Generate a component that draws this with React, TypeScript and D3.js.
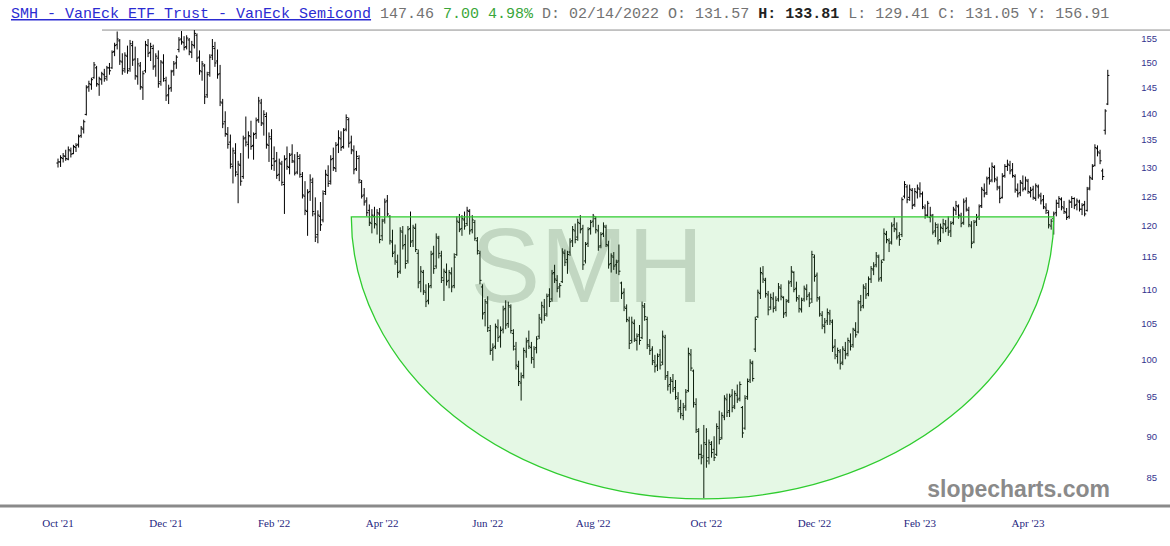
import React from "react";
import * as d3 from "d3";

type Bar = [number, number, number, number]; // open, high, low, close

const oct21: Bar[] = [
  [130.8,131.6,130.0,131.0],[131.0,132.2,130.1,131.8],[131.6,132.6,130.9,132.1],[132.0,133.2,131.2,131.6],
  [131.5,133.8,131.3,133.2],[133.0,133.6,131.8,132.4],[132.5,134.1,132.4,133.8],[133.6,134.4,132.8,134.0],
  [134.2,136.0,133.6,135.6],[135.8,137.6,135.4,137.2],[137.0,138.8,136.2,138.4],[139.8,145.5,139.6,145.0],
  [145.2,146.4,144.2,145.8],[145.6,147.0,144.6,146.6],[147.0,150.2,146.8,149.6],[149.0,149.4,145.2,145.8],
  [145.6,147.2,143.4,146.8],[146.6,148.2,145.6,147.8],[147.6,148.8,146.2,146.8],[147.2,149.4,146.4,149.0],
  [149.0,150.0,147.6,148.4],
];
const nov21: Bar[] = [
  [149.0,152.6,148.8,152.2],[152.4,154.2,151.4,153.6],[153.8,156.6,152.8,155.0],[154.6,155.0,149.6,150.4],
  [150.2,152.0,147.6,148.4],[148.8,152.2,148.0,151.6],[151.4,153.6,147.8,148.4],[148.8,154.8,148.2,154.0],
  [153.6,154.6,149.4,150.6],[150.8,153.4,146.6,147.4],[147.2,151.0,145.6,149.8],[149.4,150.2,144.6,145.2],
  [145.0,148.4,142.6,147.8],[148.4,154.6,148.0,153.8],[153.6,155.0,151.2,152.0],[152.2,154.2,150.4,153.4],
  [153.0,153.8,148.6,149.2],[149.4,152.0,147.2,151.4],[151.0,152.6,145.0,145.8],[146.2,150.6,145.4,150.2],
  [150.0,151.8,146.2,146.8],
];
const dec21: Bar[] = [
  [146.4,147.2,142.4,143.4],[143.6,145.6,141.8,144.8],[145.0,148.6,144.2,148.2],[148.4,150.4,147.4,149.8],
  [150.0,151.6,148.8,151.2],[152.8,155.4,152.2,154.8],[155.0,156.7,153.8,154.4],[154.2,155.6,152.6,153.2],
  [153.4,155.8,152.8,155.2],[154.8,155.2,151.6,152.4],[152.2,154.6,151.0,153.8],[153.6,156.91,153.0,156.2],
  [155.8,156.2,150.2,151.0],[151.2,152.6,147.6,148.4],[148.2,150.4,146.4,149.8],[149.4,149.8,141.8,143.2],
  [143.6,148.2,143.0,147.6],[148.0,151.8,147.2,151.2],[151.6,155.0,150.6,153.4],[153.0,154.4,149.2,150.0],
  [150.4,152.8,146.8,147.6],[147.8,149.6,141.4,142.2],
];
const jan22: Bar[] = [
  [142.0,142.8,137.2,138.0],[138.4,140.4,135.6,136.2],[136.0,137.4,133.4,134.2],[134.6,136.0,129.8,130.6],
  [130.2,133.6,127.2,133.0],[132.6,134.4,128.4,129.2],[128.8,131.2,123.8,130.6],[130.4,132.6,126.8,127.6],
  [128.4,135.8,128.0,135.2],[135.4,139.4,133.8,134.6],[134.2,136.6,131.6,135.8],[135.6,138.6,133.2,133.8],
  [134.0,136.4,131.4,136.0],[136.2,139.2,135.2,138.6],[138.8,143.2,138.2,142.4],[142.0,142.8,137.6,138.2],
  [138.0,140.6,135.8,139.8],[139.4,140.2,133.4,134.2],[134.0,136.4,131.0,135.6],[135.2,137.0,129.6,130.4],
];
const feb22: Bar[] = [
  [131.57,133.81,129.41,131.05],[131.2,132.8,128.0,128.6],[128.8,131.6,127.6,130.8],[130.6,131.2,126.8,127.4],
  [127.0,132.2,122.0,131.4],[131.6,133.8,129.6,130.2],[130.0,132.6,128.8,132.2],[132.4,134.2,130.8,131.2],
  [131.0,132.4,128.6,129.0],[129.2,132.8,128.8,132.0],[131.6,132.4,128.2,128.8],[128.4,129.2,124.6,125.2],
  [125.0,127.6,121.8,122.6],[122.4,126.2,118.4,125.6],[125.8,128.8,124.2,127.8],[127.4,128.2,121.6,122.4],
  [122.0,124.8,117.4,118.2],[118.6,122.6,117.2,121.8],[121.6,124.0,119.2,120.2],
];
const mar22: Bar[] = [
  [121.0,126.0,120.6,125.4],[125.8,129.6,125.2,128.8],[128.6,130.4,126.6,127.2],[127.6,132.2,127.0,131.4],
  [131.6,133.6,129.4,130.0],[129.8,134.6,129.2,134.0],[134.2,136.8,132.6,135.4],[135.2,136.6,133.0,133.6],
  [133.8,137.2,133.4,136.8],[137.0,139.8,136.6,139.2],[138.8,139.2,133.6,134.4],[134.6,135.8,132.4,133.2],
  [133.0,134.0,128.8,129.6],[129.8,133.0,129.4,132.0],[131.6,132.2,127.2,127.8],[127.4,127.8,124.6,125.0],
  [125.2,126.4,123.4,124.0],[124.2,124.8,121.6,122.2],[122.6,123.6,120.0,120.6],[120.4,122.8,118.8,121.8],
  [121.6,123.2,119.6,120.4],[120.2,122.8,118.6,122.2],[122.0,123.0,117.2,117.8],
];
const apr22: Bar[] = [
  [118.4,121.2,117.6,120.8],[121.0,124.6,120.4,124.0],[124.2,125.2,121.6,122.0],[121.6,121.8,117.0,117.6],
  [117.4,119.4,115.0,115.6],[115.8,117.0,113.8,114.4],[114.2,115.4,111.8,112.6],[112.8,119.8,112.4,119.2],
  [119.0,120.0,116.2,116.8],[117.0,118.6,113.2,114.0],[114.4,120.0,114.0,119.4],[119.6,122.4,116.6,117.4],
  [117.6,120.2,116.6,119.8],[119.6,120.4,115.8,116.2],[115.6,116.2,110.2,111.0],[111.2,113.6,109.6,112.8],
  [112.6,113.0,109.2,109.8],[109.6,110.8,107.4,108.2],[108.4,111.0,107.8,110.4],[110.6,116.0,110.2,115.4],
];
const may22: Bar[] = [
  [115.6,116.8,112.4,113.2],[113.6,118.8,113.2,118.2],[118.0,118.4,114.8,115.6],[115.2,116.0,111.0,111.8],
  [111.4,113.2,108.3,112.8],[112.6,114.0,110.6,111.2],[111.4,113.0,110.2,112.6],[112.4,113.4,109.6,110.4],
  [110.6,115.6,110.2,115.0],[115.4,121.6,115.2,120.8],[120.6,122.0,119.0,119.4],[119.6,121.8,118.4,121.2],
  [121.0,122.4,119.4,120.0],[120.4,123.2,120.0,122.6],[122.4,122.8,118.6,119.2],[119.4,121.8,118.8,121.0],
  [120.6,121.0,117.6,118.0],[117.6,118.2,115.4,116.0],[115.6,116.0,110.8,111.4],[110.4,110.8,105.6,106.4],
  [106.6,108.6,104.6,108.2],
];
const jun22: Bar[] = [
  [108.0,109.0,103.8,104.4],[104.0,104.8,100.6,101.2],[101.4,102.2,99.8,101.6],[101.8,105.0,101.4,104.6],
  [104.4,105.6,102.4,103.0],[103.2,104.6,101.6,104.0],[104.2,107.6,103.6,107.0],[107.2,108.4,104.2,104.8],
  [105.0,108.2,104.4,107.6],[107.4,107.8,103.6,104.0],[103.6,104.2,101.2,101.8],[101.4,102.4,98.6,99.2],
  [99.0,99.8,96.4,97.0],[96.8,98.2,94.5,97.6],[97.8,101.6,97.4,101.2],[101.0,103.0,100.2,102.4],
  [102.6,104.0,101.4,101.8],[101.6,102.4,99.4,100.2],[100.0,101.8,98.8,101.4],[101.6,103.2,100.8,102.8],
  [103.2,106.4,102.8,105.8],
];
const jul22: Bar[] = [
  [105.6,108.2,105.0,107.6],[107.4,108.6,105.4,106.2],[106.4,109.4,106.0,109.0],[109.2,110.2,107.4,108.2],
  [108.6,113.0,108.2,112.4],[112.6,113.8,111.0,111.6],[111.4,112.2,109.6,110.2],[110.4,111.0,108.8,110.6],
  [111.2,116.4,111.0,115.8],[115.6,116.2,113.6,114.2],[114.6,116.0,112.4,115.4],[115.8,118.0,115.2,117.4],
  [117.6,120.0,116.6,119.4],[119.2,120.4,117.2,117.8],[118.2,121.2,117.6,120.6],[120.4,121.8,118.8,119.4],
  [119.6,120.2,113.0,113.8],[114.4,117.4,114.0,117.0],[117.2,119.8,116.6,119.4],[119.6,121.0,118.6,120.6],
];
const aug22: Bar[] = [
  [120.8,122.0,119.8,121.6],[121.2,121.6,118.8,119.4],[119.2,120.2,116.0,116.6],[116.8,119.0,116.4,118.6],
  [118.8,120.6,118.2,120.0],[119.8,120.2,116.6,117.0],[116.8,117.6,113.2,113.8],[114.0,115.6,112.6,115.2],
  [115.0,115.8,113.0,113.6],[113.8,114.6,112.4,114.2],[114.4,117.0,112.2,112.8],[111.0,111.2,108.6,109.4],
  [109.6,110.2,106.8,107.4],[107.2,107.8,105.2,105.6],[105.4,106.0,101.4,102.2],[102.6,106.0,102.2,105.2],
  [105.0,105.6,102.4,102.8],[102.6,103.6,101.2,103.2],[103.4,104.8,102.0,102.6],[103.0,108.2,102.8,107.6],
  [107.4,108.0,105.4,106.0],[105.6,106.0,101.4,102.0],[101.8,102.8,100.6,101.2],
];
const sep22: Bar[] = [
  [101.4,101.8,99.2,99.8],[99.6,100.6,98.2,99.0],[99.2,100.8,98.4,100.4],[100.6,101.4,98.6,99.2],
  [99.6,104.0,99.2,103.2],[103.0,103.4,97.2,97.6],[97.8,98.4,95.8,96.4],[96.6,97.6,95.4,97.2],
  [97.0,98.0,95.6,96.0],[96.2,97.2,94.6,95.0],[94.8,95.6,93.0,93.4],[93.6,94.6,92.2,92.8],
  [92.6,94.2,92.0,93.6],[93.8,96.0,93.2,95.6],[95.8,101.6,95.6,100.8],[100.6,101.4,98.4,98.8],
  [98.4,98.6,93.6,94.2],[94.0,94.8,90.4,90.8],[90.6,91.0,87.2,87.8],[87.8,89.0,86.6,87.4],
  [87.6,91.4,82.7,89.2],
];
const oct22: Bar[] = [
  [89.0,91.0,86.2,87.0],[87.4,89.6,86.6,89.2],[89.0,89.4,87.4,88.0],[88.4,90.0,87.0,87.4],
  [87.8,91.6,87.6,91.2],[91.0,93.2,89.0,89.6],[89.8,93.0,89.6,92.6],[92.4,95.2,92.0,94.8],
  [94.6,95.4,92.4,93.0],[93.2,95.4,92.4,95.0],[95.2,96.0,93.0,93.6],[93.8,95.8,93.4,95.4],
  [95.2,96.6,94.2,94.6],[94.8,97.0,94.4,96.6],[93.6,93.8,89.8,90.4],[91.0,95.2,90.8,94.8],
  [95.0,97.4,94.6,97.0],[97.2,100.0,96.8,99.6],[99.4,99.8,97.0,97.4],[101.4,106.0,101.0,105.6],
  [106.0,110.0,105.8,109.6],
];
const nov22: Bar[] = [
  [109.4,113.4,108.6,112.6],[112.4,113.6,111.0,111.6],[111.4,111.8,108.8,109.4],[109.2,109.8,106.2,107.0],
  [107.4,109.4,107.0,108.8],[108.6,109.6,106.6,107.2],[107.4,109.0,106.8,108.4],[108.6,111.0,108.2,110.4],
  [110.2,110.8,108.4,109.0],[108.8,109.0,105.8,106.4],[106.6,108.6,106.0,108.2],[108.4,111.4,108.0,111.0],
  [111.2,113.6,110.4,112.8],[112.6,112.8,109.6,110.0],[110.2,111.2,108.2,108.8],[108.6,109.2,106.6,107.2],
  [107.0,108.8,106.6,108.4],[108.6,110.6,108.2,110.2],[110.0,110.8,108.4,109.0],[109.2,109.6,107.4,108.0],
  [108.6,116.0,108.0,115.4],
];
const dec22: Bar[] = [
  [115.0,115.4,111.2,112.0],[112.2,112.6,108.2,108.8],[108.6,109.0,106.0,106.4],[106.2,106.8,104.2,104.8],
  [104.6,105.8,103.6,105.2],[105.4,107.2,104.8,106.6],[106.4,107.0,104.8,105.4],[105.2,105.6,101.0,101.6],
  [101.8,102.8,100.0,100.6],[100.4,101.6,99.4,101.2],[101.0,101.4,98.6,99.4],[99.6,101.8,99.2,101.4],
  [101.2,102.4,100.0,100.6],[100.8,103.0,100.4,102.6],[102.4,103.6,101.2,101.8],[102.0,104.4,101.6,104.2],
  [104.0,105.2,103.0,103.4],[103.8,108.4,103.6,108.0],[108.2,109.2,106.8,107.4],[107.6,110.8,107.2,110.4],
  [110.2,111.0,108.6,109.2],
];
const jan23: Bar[] = [
  [109.4,112.0,109.0,111.6],[111.6,113.6,111.0,113.2],[113.0,114.2,112.2,113.6],[113.8,115.8,113.4,115.2],
  [115.0,115.4,111.2,111.6],[111.8,114.6,111.2,114.2],[114.6,119.6,114.4,118.8],[118.6,119.2,117.2,117.8],
  [117.6,118.0,115.8,117.2],[117.4,120.6,117.0,120.0],[120.2,121.4,119.0,119.6],[119.4,120.6,117.8,118.2],
  [118.4,119.0,116.8,117.8],[118.6,124.8,118.2,124.4],[125.0,127.6,124.6,127.0],[126.6,127.0,123.8,124.4],
  [124.8,127.0,124.2,126.2],[126.0,126.4,122.8,123.4],[123.6,126.4,123.2,125.8],[125.6,127.0,124.6,126.4],
];
const feb23: Bar[] = [
  [126.2,127.4,124.8,125.4],[125.4,125.8,122.8,123.2],[123.0,123.6,121.2,121.8],[121.8,124.2,121.4,123.8],
  [121.4,123.2,120.6,121.8],[121.6,122.0,118.6,119.0],[119.2,120.6,118.2,120.2],[119.8,120.4,117.0,117.6],
  [117.8,120.4,117.4,119.8],[119.6,121.2,118.8,120.4],[120.2,121.0,119.0,119.6],[119.8,121.6,118.4,119.0],
  [119.2,120.8,118.2,120.4],[120.6,123.2,120.2,122.8],[122.6,124.2,121.8,123.4],[123.2,123.6,121.2,121.8],
  [121.6,122.2,119.8,120.4],[120.6,124.6,120.2,124.0],[124.2,124.8,122.4,122.8],
];
const mar23: Bar[] = [
  [122.6,123.2,119.8,120.2],[120.0,120.8,116.4,117.2],[117.4,121.0,117.2,120.6],[120.8,122.0,120.0,121.4],
  [121.6,123.6,121.0,123.2],[123.4,126.6,123.0,126.2],[126.0,127.2,124.8,125.4],[125.6,128.4,125.2,128.0],
  [128.2,130.0,127.0,127.6],[127.8,130.9,127.4,130.2],[130.0,130.4,127.4,128.0],[127.8,128.4,126.0,126.6],
  [126.4,126.8,123.8,124.6],[124.8,129.0,124.6,128.4],[128.6,130.6,128.2,130.2],[130.2,131.4,129.4,130.6],
  [130.4,131.2,128.8,129.4],[129.6,130.8,128.2,128.6],[128.4,128.8,125.6,126.2],[126.0,127.2,124.8,125.4],
  [125.6,127.8,125.0,127.4],[127.2,128.6,125.8,126.2],[126.4,128.4,126.0,127.8],
];
const apr23: Bar[] = [
  [127.6,128.0,125.4,125.8],[125.6,126.6,124.8,126.0],[126.2,126.8,124.4,124.8],[124.6,127.2,124.2,126.8],
  [126.6,127.0,124.6,125.2],[125.0,125.6,123.6,124.2],[124.4,125.2,122.8,123.2],[123.0,123.8,122.0,122.6],
  [122.2,122.6,119.6,120.2],[120.0,121.2,119.4,120.8],[121.2,122.4,118.6,122.0],[122.2,124.4,121.6,123.8],
  [123.8,125.0,123.0,124.6],[124.4,124.8,122.6,123.2],[123.0,124.2,122.0,122.4],[122.2,123.0,121.0,121.4],
  [121.6,124.4,121.2,124.0],[124.0,125.0,123.0,124.6],[124.6,124.8,122.8,123.4],
];
const may23: Bar[] = [
  [123.6,124.6,122.6,124.2],[124.0,124.4,122.4,122.8],[122.8,123.8,121.8,123.4],[123.6,124.2,121.6,122.0],
  [122.6,126.6,122.4,126.2],[126.4,128.6,126.0,128.2],[128.0,130.6,127.8,130.2],[130.4,134.2,130.2,133.6],
  [133.4,134.0,132.0,132.8],[132.6,133.2,130.6,131.2],[129.4,129.8,127.8,128.4],[136.8,140.8,136.0,140.46],
  [141.8,148.6,141.6,147.46],
];

const months: { label: string; bars: Bar[] }[] = [
  { label: "Oct '21", bars: oct21 }, { label: "Nov '21", bars: nov21 }, { label: "Dec '21", bars: dec21 },
  { label: "Jan '22", bars: jan22 }, { label: "Feb '22", bars: feb22 }, { label: "Mar '22", bars: mar22 },
  { label: "Apr '22", bars: apr22 }, { label: "May '22", bars: may22 }, { label: "Jun '22", bars: jun22 },
  { label: "Jul '22", bars: jul22 }, { label: "Aug '22", bars: aug22 }, { label: "Sep '22", bars: sep22 },
  { label: "Oct '22", bars: oct22 }, { label: "Nov '22", bars: nov22 }, { label: "Dec '22", bars: dec22 },
  { label: "Jan '23", bars: jan23 }, { label: "Feb '23", bars: feb23 }, { label: "Mar '23", bars: mar23 },
  { label: "Apr '23", bars: apr23 }, { label: "May '23", bars: may23 },
];

const yTicks = [85, 90, 95, 100, 105, 110, 115, 120, 125, 130, 135, 140, 145, 150, 155];
const yearHigh = 156.91;

// cup (half-ellipse) annotation: bar index span, rim price, bottom price
const cupStart = 114;
const cupEnd = 387;
const cupRim = 121.5;
const cupBottom = 82.6;

const W = 1170;
const H = 546;

export default function App() {
  const bars: Bar[] = months.flatMap((m) => m.bars);
  const starts: number[] = [];
  let acc = 0;
  months.forEach((m) => { starts.push(acc); acc += m.bars.length; });

  const x = d3.scaleLinear().domain([0, bars.length - 1]).range([58, 58 + (bars.length - 1) * 2.573]);
  const y = d3.scaleLog().domain([85, 155]).range([478, 39]);

  const cx0 = x(cupStart);
  const cx1 = x(cupEnd);
  const top = y(cupRim);
  const rx = (cx1 - cx0) / 2;
  const ry = y(cupBottom) - top;
  const cupPath = `M${cx0},${top} L${cx1},${top} A${rx},${ry} 0 0 1 ${cx0},${top} Z`;

  const mono = "'Liberation Mono', 'Courier New', monospace";
  const gray = "#727272";

  return (
    <svg width={W} height={H} style={{ position: "absolute", left: 0, top: 0, background: "#fff" }}>
      <text x={11} y={18} fontFamily={mono} fontSize={15} style={{ whiteSpace: "pre" }}>
        <tspan fill="#2b2bd2" textDecoration="underline">SMH - VanEck ETF Trust - VanEck Semicond</tspan>
        <tspan fill={gray}> 147.46 </tspan>
        <tspan fill="#3aa63a">7.00 4.98%</tspan>
        <tspan fill={gray}> D: 02/14/2022 O: 131.57 </tspan>
        <tspan fill="#222" fontWeight="bold">H: 133.81</tspan>
        <tspan fill={gray}> L: 129.41 C: 131.05 Y: 156.91</tspan>
      </text>

      <line x1={102} x2={W} y1={y(yearHigh)} y2={y(yearHigh)} stroke="#8c8c8c" strokeWidth={1} />

      <text x={587} y={302} textAnchor="middle" fontFamily="'Liberation Sans', Arial, sans-serif"
        fontSize={105} fill="#d6d9d6">SMH</text>

      <g stroke="#000" strokeWidth={1}>
        {bars.map((b, i) => {
          const xi = x(i);
          return (
            <g key={i}>
              <line x1={xi} x2={xi} y1={y(b[1])} y2={y(b[2])} />
              <line x1={xi - 1.6} x2={xi} y1={y(b[0])} y2={y(b[0])} />
              <line x1={xi} x2={xi + 1.6} y1={y(b[3])} y2={y(b[3])} />
            </g>
          );
        })}
      </g>

      <path d={cupPath} fill="#4fd14f" fillOpacity={0.15} stroke="#2fcc2f" strokeWidth={1.3} />

      <text x={1110} y={497} textAnchor="end" fontFamily="'Liberation Sans', Arial, sans-serif"
        fontWeight="bold" fontSize={23} fill="#8a8a8a">slopecharts.com</text>

      {yTicks.map((t) => (
        <text key={t} x={1157} y={y(t)} dy="0.35em" textAnchor="end"
          fontFamily="'Liberation Sans', Arial, sans-serif" fontSize={9.5} fill="#34348e">{t}</text>
      ))}

      <line x1={0} x2={W} y1={506} y2={506} stroke="#8a8a8a" strokeWidth={3} />

      {months.map((m, k) => (k % 2 === 0 ? (
        <text key={m.label} x={x(starts[k])} y={527} textAnchor="middle"
          fontFamily="'Liberation Serif', 'Times New Roman', serif" fontSize={11} fill="#1f1f80">{m.label}</text>
      ) : null))}
    </svg>
  );
}
